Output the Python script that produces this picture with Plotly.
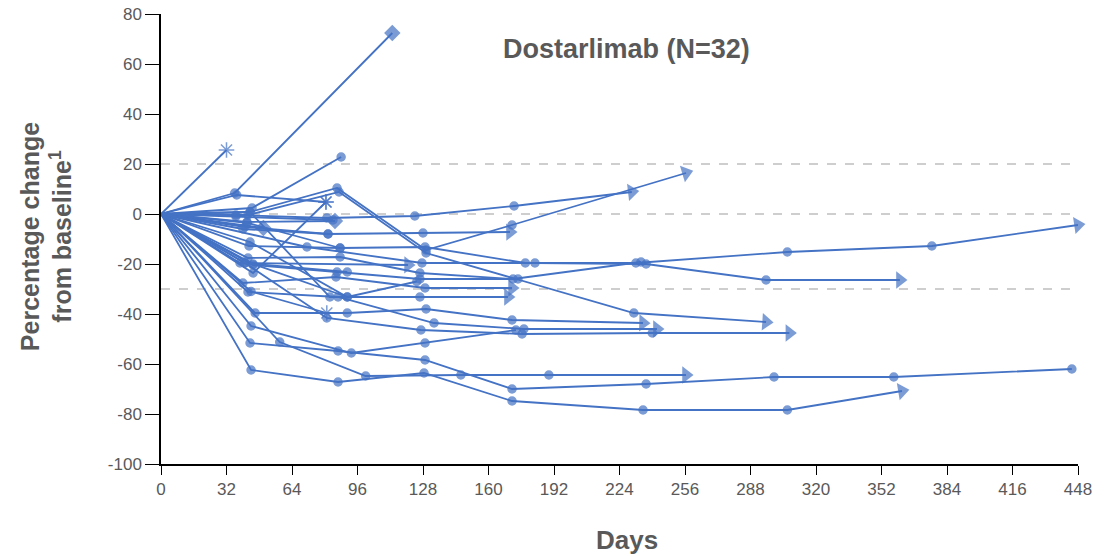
import plotly.graph_objects as go

# Each patient: days, percentage change, terminal marker type
patients = [
    ([0, 32], [0, 25.6], "asterisk"),
    ([0, 36, 113], [0, 8.4, 72.4], "diamond"),
    ([0, 44.5, 88], [0, 2.4, 22.8], "dot"),
    ([0, 43.5, 86, 129.5, 171.5, 256.5], [0, 0.8, 10.4, -14.4, -4.4, 16.4], "arrow"),
    ([0, 42.5, 87, 129.5, 231, 295.6], [0, -0.4, 8.8, -15.6, -39.6, -43.2], "arrow"),
    ([0, 37, 80.6], [0, 7.6, 4.8], "asterisk"),
    ([0, 36.6, 81, 124, 172.5, 230], [0, -0.4, -1.6, -0.8, 3.2, 8.8], "arrow"),
    ([0, 42, 85], [0, -3.2, -2.8], "diamond"),
    ([0, 50], [0, -5.6], "diamond"),
    ([0, 41, 81.6, 128, 170.5], [0, -5.2, -8, -7.6, -7.2], "arrow"),
    ([0, 43, 87.5, 129, 178, 232, 306, 376.6, 448], [0, -12.8, -13.6, -13.2, -19.6, -19.6, -15.2, -12.8, -4.4], "arrow"),
    ([0, 71.3, 127.5, 182.7, 237, 295.6, 361], [0, -13.2, -19.6, -19.6, -20, -26.4, -26.4], "arrow"),
    ([0, 42.5, 87.5, 126.5, 172, 234.5], [0, -17.6, -17.2, -23.6, -26, -19.2], "dot"),
    ([0, 45, 86, 126.5, 174.4], [0, -20.4, -23.2, -26, -26], "dot"),
    ([0, 38.6, 120.7], [0, -19.6, -20.4], "arrow"),
    ([0, 40, 85.5, 129, 171.5], [0, -27.6, -25.2, -29.6, -29.6], "arrow"),
    ([0, 43.5, 82.5, 126.5, 169.5], [0, 0.8, -33.2, -33.2, -33.2], "arrow"),
    ([0, 46, 91, 129.5, 171.5, 235.5], [0, -39.6, -39.6, -38, -42.4, -43.6], "arrow"),
    ([0, 42.5, 86.5, 133.4, 177.3, 242.3], [0, -31.2, -33.2, -43.6, -46, -46], "arrow"),
    ([0, 41, 81, 127, 176.4, 240, 307], [0, -19.6, -41.6, -46.4, -48, -47.6, -47.6], "arrow"),
    ([0, 44, 93, 129, 173.4], [0, -44.8, -55.6, -51.6, -46.4], "dot"),
    ([0, 43.5, 86.5, 129, 171.5, 237, 299.5, 358, 445], [0, -51.6, -54.8, -58.4, -70, -68, -65.2, -65.2, -62], "dot"),
    ([0, 58, 100, 146.5, 189.5, 256.5], [0, -51.2, -64.8, -64.4, -64.4, -64.4], "arrow"),
    ([0, 44, 86.5, 128.5, 171.5, 235.5, 306, 362], [0, -62.4, -67.2, -63.6, -74.8, -78.4, -78.4, -70.8], "arrow"),
    ([0, 43.5, 91, 125], [0, -11.2, -33.2, -27], "dot"),
    ([0, 45, 80.6], [0, -23.6, 4.8], "asterisk"),
    ([0, 44, 81], [0, -31, -39.6], "asterisk"),
    ([0, 41, 91], [0, -19.6, -23.2], "dot"),
    ([0, 42, 87.5], [0, -3.5, -13.6], "dot"),
    ([0, 36.6, 84], [0, -1, -2.4], "dot"),
    ([0, 40, 81.6], [0, -6, -8], "dot"),
    ([0, 45, 91], [0, -20, -33.2], "dot"),
]

x_ticks = list(range(0, 449, 32))
y_ticks = list(range(-100, 81, 20))
y_tick_labels = [str(v) for v in y_ticks]  # hyphen-minus as in the reference
ref_lines = [20, 0, -30]

BLUE = "#4472C4"
GRAY = "#595959"
FONT = "Liberation Sans, Arial"

fig = go.Figure()

for days, vals, end in patients:
    n = len(days)
    symbols, sizes = [], []
    for i in range(n):
        if i == 0:
            symbols.append("circle"); sizes.append(0)
        elif i < n - 1 or end == "dot":
            symbols.append("circle"); sizes.append(8)
        elif end == "diamond":
            symbols.append("diamond"); sizes.append(11)
        elif end == "asterisk":
            symbols.append("asterisk-open"); sizes.append(13)
        else:
            symbols.append("circle"); sizes.append(0)
    fig.add_trace(go.Scatter(
        x=days, y=vals, mode="lines+markers",
        line=dict(color=BLUE, width=1.8),
        marker=dict(color=BLUE, symbol=symbols, size=sizes,
                    line=dict(color=BLUE, width=1.5)),
        showlegend=False, hoverinfo="skip", cliponaxis=False,
    ))
    if end == "arrow":
        fig.add_trace(go.Scatter(
            x=days[-2:], y=vals[-2:], mode="markers",
            marker=dict(color=BLUE, symbol=["circle", "triangle-up"], size=[0, 15],
                        angleref="previous", line=dict(width=0)),
            showlegend=False, hoverinfo="skip", cliponaxis=False,
        ))

for r in ref_lines:
    fig.add_shape(type="line", xref="paper", x0=0, x1=1, yref="y", y0=r, y1=r,
                  line=dict(color="#BFBFBF", width=1.5, dash="dash"), layer="below")

fig.add_annotation(text="<b>Dostarlimab (N=32)</b>", xref="paper", yref="paper",
                   x=0.508, y=0.96, showarrow=False,
                   font=dict(family=FONT, size=27, color=GRAY))
fig.add_annotation(text="<b>Days</b>", xref="paper", yref="paper",
                   x=0.508, y=-0.169, yanchor="middle", showarrow=False,
                   font=dict(family=FONT, size=26, color=GRAY))
fig.add_annotation(text="<b>Percentage change<br>from baseline<sup>1</sup></b>",
                   xref="paper", yref="paper", x=-0.125, y=0.505, xanchor="center",
                   yanchor="middle", textangle=-90, showarrow=False,
                   font=dict(family=FONT, size=25, color=GRAY))

fig.update_layout(
    width=1112, height=556,
    margin=dict(l=161, r=34, t=14, b=92),
    plot_bgcolor="white", paper_bgcolor="white",
    font=dict(family=FONT, color=GRAY),
    xaxis=dict(range=[0, 448], tickvals=x_ticks, showgrid=False, zeroline=False,
               showline=True, linecolor="black", linewidth=1.5, automargin=False,
               ticks="outside", ticklen=9, tickcolor="black",
               tickfont=dict(size=17, color=GRAY)),
    yaxis=dict(range=[-100, 80], tickvals=y_ticks, ticktext=y_tick_labels,
               showgrid=False, zeroline=False, automargin=False,
               ticklabeloverflow="allow",
               showline=True, linecolor="black", linewidth=1.5,
               ticks="outside", ticklen=14, tickcolor="black",
               tickfont=dict(size=17, color=GRAY)),
)

fig.write_html("out.html", config={"displayModeBar": False},
               post_script="document.body.style.margin='0';document.body.style.overflow='hidden';")
